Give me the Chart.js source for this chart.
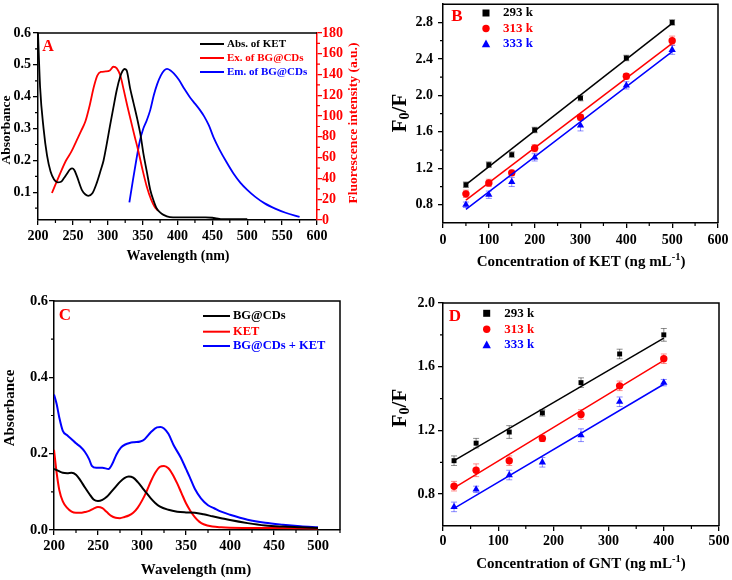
<!DOCTYPE html>
<html><head><meta charset="utf-8">
<script src="https://cdn.jsdelivr.net/npm/chart.js@4.4.0/dist/chart.umd.min.js"></script>
<style>
body{margin:0;background:#fff;width:732px;height:580px;overflow:hidden;position:relative}
canvas{position:absolute}
</style></head><body>
<canvas id="cA" width="366" height="290" style="left:0;top:0;width:366px;height:290px"></canvas>
<canvas id="cB" width="366" height="290" style="left:366px;top:0;width:366px;height:290px"></canvas>
<canvas id="cC" width="366" height="290" style="left:0;top:290px;width:366px;height:290px"></canvas>
<canvas id="cD" width="366" height="290" style="left:366px;top:290px;width:366px;height:290px"></canvas>
<script>
// ---------- Panel A data ----------
const absX = [200,203,208,213,218,223,228,233,237,242,246,249,252,256,263,268,272,278,284,290,294,298,303,308,313,318,321,324,327,332,337,342,347,351,356,361,366,370,375,380,389,400,420,440,450,456,462,480,500];
const absY = [0.600,0.430,0.300,0.215,0.165,0.140,0.131,0.133,0.144,0.160,0.172,0.175,0.170,0.149,0.107,0.093,0.089,0.097,0.128,0.170,0.200,0.245,0.306,0.365,0.422,0.464,0.480,0.487,0.483,0.427,0.380,0.333,0.280,0.223,0.165,0.107,0.072,0.050,0.037,0.029,0.022,0.021,0.021,0.021,0.020,0.018,0.016,0.016,0.016];
const exX = [220,230,240,248,255,262,268,274,280,285,290,297,303,308,313,318,323,328,333,338,344,350,356,362,367,372];
const exY = [26,42,57,66,76,86,95,110,128,139,142.5,143,144,147.5,146,139,125,110,96,82,66,48,32,20,13,9];
const emX = [331,336,341,346,351,356,361,366,371,376,381,385,390,395,402,410,418,425,432,438,445,452,460,470,480,490,500,512,525,540,555,575];
const emY = [17,38,58,76,88,96,106,120,131,139,144,145.5,144,141,135,126,118,112,106,100,91,79,68,56,45,36,29,22,16,11,7,3];
const aXTicks = [200,250,300,350,400,450,500,550,600];
const aYTicks = [0.1,0.2,0.3,0.4,0.5,0.6];
const aY2Ticks = [0,20,40,60,80,100,120,140,160,180];
const aLegend = ['Abs. of KET','Ex. of BG@CDs','Em. of BG@CDs'];

// ---------- Panel B data ----------
const bX = [50,100,150,200,300,400,500];
const b293 = [1.02,1.24,1.35,1.62,1.97,2.41,2.80];
const b313 = [0.92,1.04,1.15,1.42,1.76,2.21,2.60];
const b333 = [0.80,0.91,1.05,1.32,1.67,2.11,2.50];
const b293Err = [0.03,0.03,0.03,0.03,0.03,0.03,0.03];
const b313Err = [0.04,0.04,0.03,0.04,0.03,0.03,0.05];
const b333Err = [0.03,0.04,0.05,0.04,0.06,0.04,0.05];
const bFitX = [50,500];
const bFit293 = [1.02,2.79];
const bFit313 = [0.85,2.57];
const bFit333 = [0.75,2.48];
const bXTicks = [0,100,200,300,400,500,600];
const bYTicks = [0.8,1.2,1.6,2.0,2.4,2.8];

// ---------- Panel C data ----------
const bgX = [200,205,210,215,220,225,230,235,240,245,250,255,260,265,270,275,280,285,290,295,300,305,310,315,320,330,340,350,360,370,380,390,400,420,440,460,480,500];
const bgY = [0.160,0.155,0.150,0.149,0.150,0.145,0.130,0.112,0.095,0.080,0.076,0.079,0.087,0.100,0.113,0.126,0.136,0.140,0.137,0.126,0.112,0.097,0.083,0.071,0.062,0.053,0.048,0.046,0.045,0.041,0.036,0.031,0.026,0.018,0.012,0.009,0.007,0.005];
const ketX = [200,203,206,210,215,220,225,230,235,240,245,250,255,260,265,270,275,280,285,290,295,300,305,310,315,320,325,330,335,340,345,350,355,360,365,370,380,390,400,450,500];
const ketY = [0.210,0.150,0.105,0.075,0.058,0.048,0.045,0.045,0.047,0.050,0.056,0.060,0.057,0.047,0.037,0.032,0.031,0.034,0.038,0.045,0.058,0.077,0.100,0.127,0.150,0.165,0.168,0.162,0.145,0.122,0.096,0.070,0.050,0.034,0.022,0.015,0.009,0.007,0.006,0.005,0.004];
const mixX = [200,203,206,210,215,220,225,230,235,240,243,248,255,262,266,271,276,281,286,291,298,303,310,317,321,325,330,336,344,350,354,360,367,375,382,390,400,420,440,460,480,500];
const mixY = [0.355,0.330,0.295,0.260,0.248,0.238,0.227,0.218,0.205,0.185,0.168,0.163,0.163,0.160,0.172,0.198,0.216,0.224,0.228,0.230,0.232,0.238,0.256,0.269,0.270,0.266,0.252,0.222,0.190,0.160,0.140,0.108,0.083,0.065,0.057,0.048,0.040,0.027,0.019,0.014,0.010,0.007];
const cXTicks = [200,250,300,350,400,450,500];
const cYTicks = [0.0,0.2,0.4,0.6];
const cLegend = ['BG@CDs','KET','BG@CDs + KET'];

// ---------- Panel D data ----------
const dX = [20,60,120,180,250,320,400];
const d293 = [1.01,1.12,1.19,1.31,1.50,1.68,1.80];
const d313 = [0.85,0.95,1.01,1.15,1.30,1.48,1.65];
const d333 = [0.72,0.83,0.92,1.00,1.17,1.38,1.50];
const d293Err = [0.03,0.03,0.04,0.02,0.03,0.03,0.04];
const d313Err = [0.03,0.04,0.03,0.02,0.03,0.03,0.03];
const d333Err = [0.03,0.02,0.03,0.03,0.04,0.03,0.02];
const dFitX = [20,400];
const dFit293 = [1.01,1.78];
const dFit313 = [0.84,1.64];
const dFit333 = [0.71,1.49];
const dXTicks = [0,100,200,300,400,500];
const dYTicks = [0.8,1.2,1.6,2.0];
const tempLegend = ['293 k','313 k','333 k'];

const SERIF = "'Liberation Serif','Times New Roman',serif";
const RED = '#ff0000', BLUE = '#0000ff', BLK = '#000000';

function pts(xs, ys){ return xs.map((x,i)=>({x:x, y:ys[i]})); }
function lineDS(xs, ys, color, axisId, w){
  return {data:pts(xs,ys), showLine:true, borderColor:color, borderWidth:w||1.8, pointRadius:0,
    cubicInterpolationMode:'monotone', fill:false, yAxisID:axisId||'y'};
}
function markDS(xs, ys, color, style, r){
  return {data:pts(xs,ys), showLine:false, backgroundColor:color, borderColor:color, borderWidth:0,
    pointStyle:style, pointRadius:r, yAxisID:'y'};
}
function axis(o){
  const c = o.color || BLK;
  return {
    type:'linear', position:o.pos, min:o.min, max:o.max,
    afterBuildTicks: s => { s.ticks = o.ticks.map(v=>({value:v})); },
    afterFit: s => { if(o.w!==undefined) s.width=o.w; if(o.h!==undefined) s.height=o.h;
      s.paddingTop=0; s.paddingBottom=0; s.paddingLeft=0; s.paddingRight=0; },
    grid:{drawOnChartArea:false, drawTicks:true, tickLength:5, color:c, lineWidth:1.3},
    border:{display:true, color:c, width:1.5},
    ticks:{font:{family:SERIF, size:o.fs||14, weight:'bold'}, color:c, padding:o.pad===undefined?2:o.pad,
      autoSkip:false, maxRotation:0, callback: v => o.fmt ? o.fmt(v) : String(v)}
  };
}
function rich(ctx, parts, cx, cy, rot, color){
  ctx.save();
  ctx.translate(cx, cy);
  if (rot) ctx.rotate(rot);
  ctx.fillStyle = color || BLK;
  ctx.textBaseline = 'middle';
  ctx.textAlign = 'left';
  let w = 0;
  parts.forEach(p => { ctx.font = 'bold ' + p.s + 'px ' + SERIF; w += ctx.measureText(p.t).width; });
  let x = -w/2;
  parts.forEach(p => { ctx.font = 'bold ' + p.s + 'px ' + SERIF; ctx.fillText(p.t, x, p.dy||0); x += ctx.measureText(p.t).width; });
  ctx.restore();
}
function marker(ctx, style, x, y, r, color){
  ctx.save(); ctx.fillStyle = color; ctx.beginPath();
  if (style==='rect'){ ctx.rect(x-r, y-r, 2*r, 2*r); }
  else if (style==='circle'){ ctx.arc(x, y, r, 0, Math.PI*2); }
  else { ctx.moveTo(x, y-r*1.1); ctx.lineTo(x+r, y+r*0.75); ctx.lineTo(x-r, y+r*0.75); ctx.closePath(); }
  ctx.fill(); ctx.restore();
}
function decor(cfg){
  return {
    id:'decor',
    beforeDatasetsDraw(chart){
      if (!cfg.err) return;
      const ctx = chart.ctx, xs = chart.scales.x, ys = chart.scales.y;
      cfg.err.forEach(e => {
        ctx.save(); ctx.strokeStyle = e.c; ctx.lineWidth = 1;
        e.x.forEach((xv,i) => {
          const px = xs.getPixelForValue(xv);
          const p1 = ys.getPixelForValue(e.y[i]-e.e[i]), p2 = ys.getPixelForValue(e.y[i]+e.e[i]);
          ctx.beginPath(); ctx.moveTo(px,p1); ctx.lineTo(px,p2);
          ctx.moveTo(px-3,p1); ctx.lineTo(px+3,p1); ctx.moveTo(px-3,p2); ctx.lineTo(px+3,p2); ctx.stroke();
        });
        ctx.restore();
      });
    },
    afterDraw(chart){
      const ctx = chart.ctx, a = chart.chartArea;
      ctx.save(); ctx.lineWidth = 1.5; ctx.strokeStyle = BLK;
      ctx.beginPath(); ctx.moveTo(a.left, a.top); ctx.lineTo(a.right, a.top);
      if (!cfg.rightAxis){ ctx.lineTo(a.right, a.bottom); }
      ctx.stroke(); ctx.restore();
      (cfg.minor||[]).forEach(m => {
        const s = chart.scales[m.id];
        ctx.save(); ctx.strokeStyle = m.c || BLK; ctx.lineWidth = 1.2; ctx.beginPath();
        m.v.forEach(v => {
          const p = s.getPixelForValue(v);
          if (m.id==='x'){ ctx.moveTo(p, a.bottom); ctx.lineTo(p, a.bottom+3); }
          else if (m.id==='y2'){ ctx.moveTo(a.right, p); ctx.lineTo(a.right+3, p); }
          else { ctx.moveTo(a.left, p); ctx.lineTo(a.left-3, p); }
        });
        ctx.stroke(); ctx.restore();
      });
      cfg.titles.forEach(t => rich(ctx, t.parts, t.x, t.y, t.rot, t.c));
      rich(ctx, [{t:cfg.letter.t, s:cfg.letter.s}], cfg.letter.x, cfg.letter.y, 0, RED);
      const L = cfg.legend;
      L.items.forEach((it,i) => {
        const y = L.y[i];
        if (L.kind==='line'){
          ctx.save(); ctx.strokeStyle = it.c; ctx.lineWidth = 2; ctx.beginPath();
          ctx.moveTo(L.x0, y); ctx.lineTo(L.x1, y); ctx.stroke(); ctx.restore();
        } else {
          marker(ctx, it.m, L.mx, y, it.r, it.c);
        }
        ctx.save(); ctx.fillStyle = it.c; ctx.font = 'bold ' + L.fs + 'px ' + SERIF;
        ctx.textBaseline = 'middle'; ctx.textAlign = 'left'; ctx.fillText(it.t, L.tx, y); ctx.restore();
      });
    }
  };
}
function common(pad){
  return {responsive:false, animation:false, devicePixelRatio:1, events:[],
    layout:{padding:pad}, plugins:{legend:{display:false}, tooltip:{enabled:false}}};
}
const f1 = v => v.toFixed(1);
const fi = v => String(Math.round(v));
function range(a,b,s){ const r=[]; for(let v=a; v<=b+1e-9; v+=s) r.push(+v.toFixed(4)); return r; }

// ---------- Chart A ----------
new Chart(document.getElementById('cA'), {
  type:'scatter',
  data:{datasets:[
    lineDS(absX, absY, BLK, 'y', 1.8),
    lineDS(exX, exY, RED, 'y2', 1.8),
    lineDS(emX, emY, BLUE, 'y2', 1.8)
  ]},
  options:Object.assign(common({top:33,left:0,right:0,bottom:0}), {scales:{
    x: axis({pos:'bottom', min:200, max:600, ticks:aXTicks, h:70, fmt:fi, fs:14, pad:3}),
    y: axis({pos:'left', min:0.013, max:0.6, ticks:aYTicks, w:38, fmt:f1, fs:14, pad:2}),
    y2: axis({pos:'right', min:0, max:180, ticks:aY2Ticks, w:49, fmt:fi, fs:14, pad:0, color:RED})
  }}),
  plugins:[decor({
    rightAxis:true,
    minor:[{id:'x', v:range(225,575,50)}, {id:'y', v:range(0.05,0.55,0.1)}, {id:'y2', v:range(10,170,20), c:RED}],
    titles:[
      {parts:[{t:'Absorbance', s:13.5}], x:7, y:130, rot:-Math.PI/2},
      {parts:[{t:'Fluorescence intensity (a.u.)', s:13.5}], x:354, y:123, rot:-Math.PI/2, c:RED},
      {parts:[{t:'Wavelength (nm)', s:14}], x:178, y:256}
    ],
    letter:{t:'A', s:16, x:48, y:47},
    legend:{kind:'line', x0:200, x1:224, tx:227, fs:11, y:[44,58,72],
      items:[{t:aLegend[0], c:BLK},{t:aLegend[1], c:RED},{t:aLegend[2], c:BLUE}]}
  })]
});

// ---------- Chart B ----------
new Chart(document.getElementById('cB'), {
  type:'scatter',
  data:{datasets:[
    lineDS(bFitX, bFit293, BLK, 'y', 1.5),
    lineDS(bFitX, bFit313, RED, 'y', 1.5),
    lineDS(bFitX, bFit333, BLUE, 'y', 1.5),
    markDS(bX, b293, BLK, 'rect', 3.5),
    markDS(bX, b313, RED, 'circle', 3.7),
    markDS(bX, b333, BLUE, 'triangle', 4.2)
  ]},
  options:Object.assign(common({top:3,left:0,right:14,bottom:0}), {scales:{
    x: axis({pos:'bottom', min:0, max:600, ticks:bXTicks, h:67, fmt:fi, fs:14, pad:4}),
    y: axis({pos:'left', min:0.6, max:3.0, ticks:bYTicks, w:77, fmt:f1, fs:14, pad:5})
  }}),
  plugins:[decor({
    err:[{x:bX, y:b293, e:b293Err, c:'rgba(0,0,0,0.45)'},{x:bX, y:b313, e:b313Err, c:'rgba(255,0,0,0.45)'},{x:bX, y:b333, e:b333Err, c:'rgba(0,0,255,0.45)'}],
    minor:[{id:'x', v:range(50,550,100)}, {id:'y', v:range(1.0,2.6,0.4)}],
    titles:[
      {parts:[{t:'F', s:21},{t:'0', s:14, dy:4},{t:'/F', s:21}], x:35, y:113, rot:-Math.PI/2},
      {parts:[{t:'Concentration of KET (ng mL', s:15},{t:'-1', s:10.5, dy:-5},{t:')', s:15}], x:215, y:262}
    ],
    letter:{t:'B', s:17, x:91, y:17},
    legend:{kind:'mark', mx:120, tx:137, fs:13, y:[13,28.5,44],
      items:[{t:tempLegend[0], c:BLK, m:'rect', r:3.5},{t:tempLegend[1], c:RED, m:'circle', r:3.7},{t:tempLegend[2], c:BLUE, m:'triangle', r:4.2}]}
  })]
});

// ---------- Chart C ----------
new Chart(document.getElementById('cC'), {
  type:'scatter',
  data:{datasets:[
    lineDS(bgX, bgY, BLK, 'y', 2),
    lineDS(ketX, ketY, RED, 'y', 2),
    lineDS(mixX, mixY, BLUE, 'y', 2)
  ]},
  options:Object.assign(common({top:11,left:0,right:26,bottom:0}), {scales:{
    x: axis({pos:'bottom', min:200, max:525, ticks:cXTicks, h:50, fmt:fi, fs:14.5, pad:3}),
    y: axis({pos:'left', min:0, max:0.6, ticks:cYTicks, w:54, fmt:f1, fs:14.5, pad:1})
  }}),
  plugins:[decor({
    minor:[{id:'x', v:range(225,525,50)}, {id:'y', v:range(0.1,0.5,0.2)}],
    titles:[
      {parts:[{t:'Absorbance', s:15}], x:10, y:118, rot:-Math.PI/2},
      {parts:[{t:'Wavelength (nm)', s:15}], x:196, y:280}
    ],
    letter:{t:'C', s:17, x:65, y:26},
    legend:{kind:'line', x0:203, x1:230, tx:233, fs:12.5, y:[26,41.7,56],
      items:[{t:cLegend[0], c:BLK},{t:cLegend[1], c:RED},{t:cLegend[2], c:BLUE}]}
  })]
});

// ---------- Chart D ----------
new Chart(document.getElementById('cD'), {
  type:'scatter',
  data:{datasets:[
    lineDS(dFitX, dFit293, BLK, 'y', 1.5),
    lineDS(dFitX, dFit313, RED, 'y', 1.5),
    lineDS(dFitX, dFit333, BLUE, 'y', 1.5),
    markDS(dX, d293, BLK, 'rect', 3.5),
    markDS(dX, d313, RED, 'circle', 3.7),
    markDS(dX, d333, BLUE, 'triangle', 4.2)
  ]},
  options:Object.assign(common({top:13,left:0,right:13,bottom:0}), {scales:{
    x: axis({pos:'bottom', min:0, max:500, ticks:dXTicks, h:54, fmt:fi, fs:14, pad:2}),
    y: axis({pos:'left', min:0.6, max:2.0, ticks:dYTicks, w:77, fmt:f1, fs:14, pad:3})
  }}),
  plugins:[decor({
    err:[{x:dX, y:d293, e:d293Err, c:'rgba(0,0,0,0.45)'},{x:dX, y:d313, e:d313Err, c:'rgba(255,0,0,0.45)'},{x:dX, y:d333, e:d333Err, c:'rgba(0,0,255,0.45)'}],
    minor:[{id:'x', v:range(50,450,100)}, {id:'y', v:range(1.0,1.8,0.4)}],
    titles:[
      {parts:[{t:'F', s:21},{t:'0', s:14, dy:4},{t:'/F', s:21}], x:35, y:118, rot:-Math.PI/2},
      {parts:[{t:'Concentration of GNT (ng mL', s:15},{t:'-1', s:10.5, dy:-5},{t:')', s:15}], x:215, y:274}
    ],
    letter:{t:'D', s:17, x:89, y:27},
    legend:{kind:'mark', mx:120.7, tx:138.3, fs:13, y:[23.3,39.3,55],
      items:[{t:tempLegend[0], c:BLK, m:'rect', r:3.5},{t:tempLegend[1], c:RED, m:'circle', r:3.7},{t:tempLegend[2], c:BLUE, m:'triangle', r:4.2}]}
  })]
});
</script>
</body></html>
